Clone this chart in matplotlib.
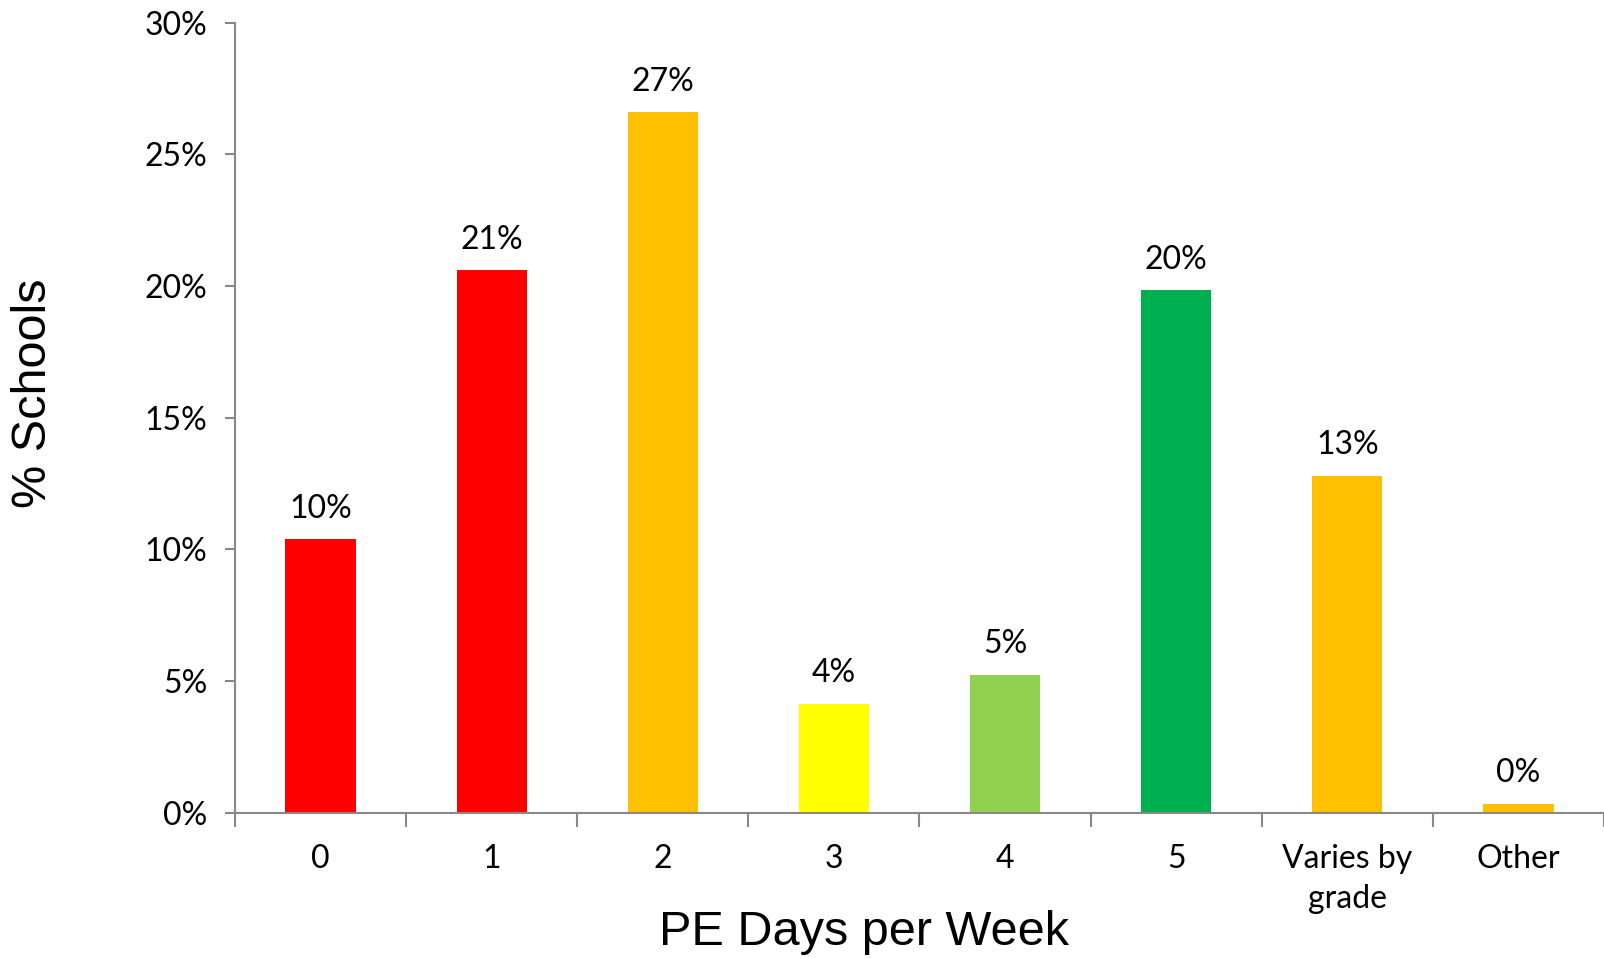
import matplotlib
matplotlib.use("Agg")
import matplotlib.pyplot as plt
from matplotlib.ticker import FuncFormatter, FixedLocator

categories = ["0", "1", "2", "3", "4", "5", "Varies by\ngrade", "Other"]
pct_schools = [10.4, 20.6, 26.6, 4.15, 5.25, 19.85, 12.8, 0.35]
bar_colors = ["#FF0000", "#FF0000", "#FFC000", "#FFFF00", "#92D050",
              "#00B050", "#FFC000", "#FFC000"]
y_ticks = [0, 5, 10, 15, 20, 25, 30]

tick_font = "Lato"
title_font = "Liberation Sans"
axis_grey = "#888888"

fig = plt.figure(figsize=(16.04, 9.58), dpi=100)
ax = fig.add_axes([0.1465, 0.1514, 0.8535, 0.8251])

x = list(range(len(categories)))
bars = ax.bar(x, pct_schools, width=0.41, color=bar_colors, zorder=2)

for rect, v in zip(bars, pct_schools):
    ax.annotate(f"{round(v):.0f}%",
                (rect.get_x() + rect.get_width() / 2, rect.get_height()),
                xytext=(0, 11), textcoords="offset points",
                ha="center", va="bottom", fontsize=23, family=tick_font,
                color="black")

ax.set_xlim(-0.5, len(categories) - 0.5)
ax.set_ylim(0, 30)

ax.yaxis.set_major_locator(FixedLocator(y_ticks))
ax.yaxis.set_major_formatter(FuncFormatter(lambda v, _: f"{v:.0f}%"))

# category labels sit between boundary tick marks
ax.set_xticks([i - 0.5 for i in range(len(categories) + 1)])
ax.set_xticklabels([])
ax.set_xticks(x, minor=True)
ax.set_xticklabels(categories, minor=True)
ax.tick_params(axis="x", which="major", direction="out", length=10,
               width=1.5, color=axis_grey)
ax.tick_params(axis="x", which="minor", length=0, pad=22, labelsize=23)
ax.tick_params(axis="y", direction="out", length=7, width=1.5,
               color=axis_grey, labelsize=23, pad=13)
for lab in ax.get_xticklabels(minor=True) + ax.get_yticklabels():
    lab.set_family(tick_font)
    lab.set_linespacing(1.45)

for side in ("top", "right"):
    ax.spines[side].set_visible(False)
for side in ("left", "bottom"):
    ax.spines[side].set_color(axis_grey)
    ax.spines[side].set_linewidth(1.5)

fig.text(0.5385, 0.003, "PE Days per Week", ha="center", va="bottom",
         fontsize=35, family=title_font, color="black")
fig.text(0.021, 0.59, "% Schools", ha="center", va="center", rotation=90,
         fontsize=35, family=title_font, color="black")

fig.savefig("out.png", dpi=100, facecolor="white")
